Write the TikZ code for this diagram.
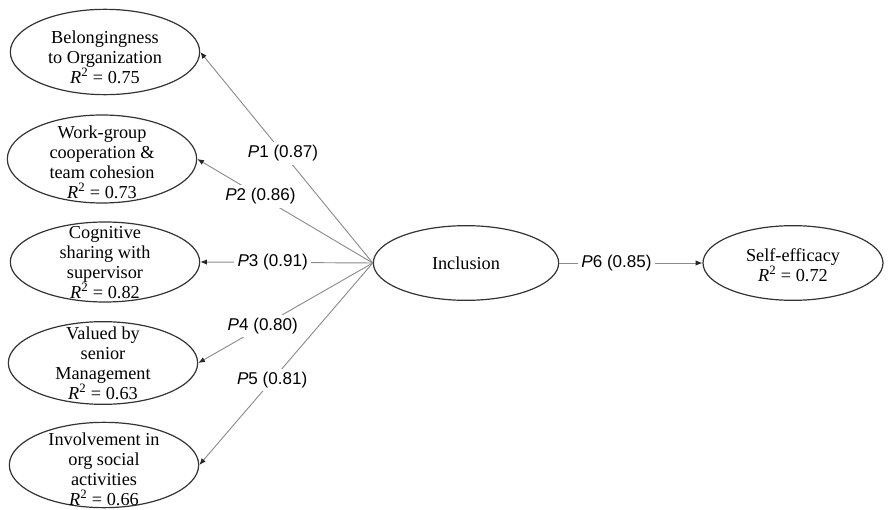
\documentclass[tikz,border=0pt]{standalone}
\usepackage{fontspec}
\setmainfont{Liberation Serif}
\newfontfamily\labelfont{Liberation Sans}
\usetikzlibrary{shapes}
\usetikzlibrary{positioning}
\usetikzlibrary{arrows.meta}
\tikzset{
    latent/.style = {ellipse, draw=black!80, line width=0.9pt, minimum width=142pt, minimum height=63pt, inner sep=0pt},
    latentc/.style = {ellipse, draw=black!80, line width=0.9pt, minimum width=139pt, minimum height=56pt, inner sep=0pt},
    txt/.style = {align=center, inner sep=0pt, font=\fontsize{13.7}{15}\selectfont},
    plabel/.style = {fill=white, inner sep=2.5pt, font=\labelfont\fontsize{12.8}{14}\selectfont},
    edgeg/.style = {-{Latex[length=5pt,width=4pt,color=black!85]}, line width=0.7pt, draw=black!45}, % paths
}
\newcommand{\Pth}[2]{\textit{P}#1 (#2)}
\newcommand{\Rsq}[1]{\textit{R}\textsuperscript{2} = #1}

\begin{document}
\begin{tikzpicture}[x=0.75pt,y=-0.75pt]
\useasboundingbox (0,0) rectangle (894,510);
\node[latent, minimum height=64pt] at (105,52) (b1) {};
\node[latent, minimum height=66pt] at (102,159) (b2) {};
\node[latent, minimum height=60pt] at (105,262) (b3) {};
\node[latent, minimum height=62pt] at (103,363) (b4) {};
\node[latent, minimum height=64pt] at (104,465) (b5) {};
\node[latentc] at (466,263) (incl) {};
\node[latentc, minimum width=135pt] at (793,263) (self) {};
%
\node[txt] at (105,57) (b1t) {Belongingness\\to Organization\\\Rsq{0.75}};
\node[txt] at (102,162) (b2t) {Work-group\\cooperation \&\\team cohesion\\\Rsq{0.73}};
\node[txt] at (105,263) (b3t) {Cognitive\\sharing with\\supervisor\\\Rsq{0.82}};
\node[txt] at (103,363) (b4t) {Valued by\\senior\\Management\\\Rsq{0.63}};
\node[txt] at (104,469) (b5t) {Involvement in\\org social\\activities\\\Rsq{0.66}};
\node[txt] at (466,263) (inclt) {Inclusion};
\node[txt] at (793,265) (selft) {Self-efficacy\\\Rsq{0.72}};
%
\draw[edgeg] (incl.west) -- node[plabel,pos=0.52] {\Pth{1}{0.87}} (b1.east);
\draw[edgeg] (incl.west) -- node[plabel,pos=0.64] {\Pth{2}{0.86}} (b2.east);
\draw[edgeg] (incl.west) -- node[plabel,pos=0.58] {\Pth{3}{0.91}} (b3.east);
\draw[edgeg] (incl.west) -- node[plabel,pos=0.63] {\Pth{4}{0.80}} (b4.east);
\draw[edgeg] (incl.west) -- node[plabel,pos=0.58] {\Pth{5}{0.81}} (b5.east);
\draw[edgeg] (incl.east) -- node[plabel,pos=0.4] {\Pth{6}{0.85}} (self.west);
\end{tikzpicture}
\end{document}
